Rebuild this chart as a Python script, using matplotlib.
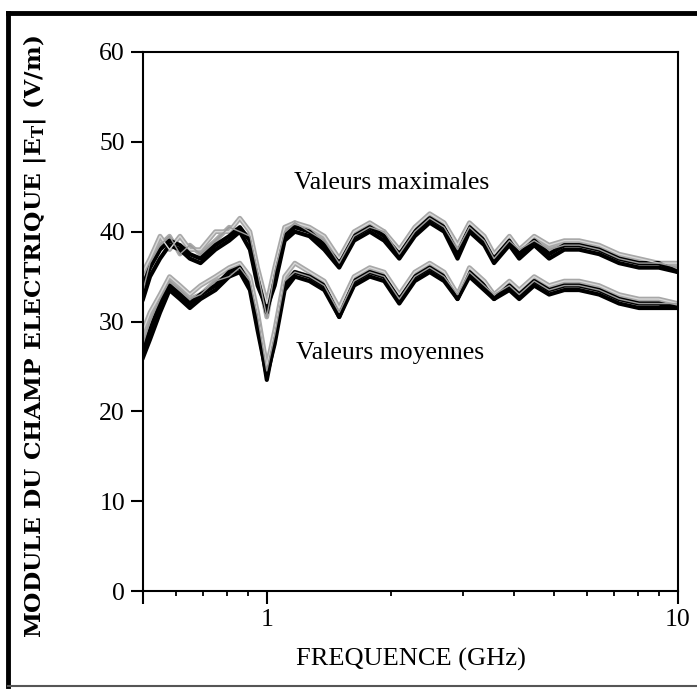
import matplotlib
matplotlib.use("Agg")
import matplotlib.pyplot as plt
from matplotlib.lines import Line2D

# ---------------- data ----------------
freq_ghz = [0.50, 0.52, 0.55, 0.58, 0.615, 0.65, 0.69, 0.75, 0.81, 0.86, 0.91, 0.95,
            1.0, 1.045, 1.105, 1.17, 1.27, 1.38, 1.50, 1.63, 1.78, 1.93, 2.10, 2.29,
            2.49, 2.70, 2.91, 3.11, 3.38, 3.57, 3.89, 4.11, 4.47, 4.86, 5.29, 5.75,
            6.43, 7.19, 8.04, 8.98, 10.0]

max_a = [34, 36, 38, 39, 38.5, 37.5, 37, 38.5, 39.5, 40.5, 39, 35,
         31, 35, 39.5, 40.5, 40, 38.5, 36.5, 39.5, 40.5, 39.5, 37.5, 40,
         41.5, 40.5, 37.5, 40.5, 39, 37, 39, 37.5, 39, 37.5, 38.5, 38.5,
         38, 37, 36.5, 36.5, 35.5]
max_b = [32.5, 35, 37, 38.5, 38, 37, 36.5, 38, 39, 40, 38, 34,
         31.5, 34, 39, 40, 39.5, 38, 36, 39, 40, 39, 37, 39.5,
         41, 40, 37, 40, 38.5, 36.5, 38.5, 37, 38.5, 37, 38, 38,
         37.5, 36.5, 36, 36, 35.5]
max_c = [35.5, 37, 39.5, 38, 39.5, 38, 38, 40, 40, 41.5, 40, 36,
         32, 36, 40.5, 41, 40.5, 39.5, 37, 40, 41, 40, 38, 40.5,
         42, 41, 38.5, 41, 39.5, 37.5, 39.5, 38, 39.5, 38.5, 39, 39,
         38.5, 37.5, 37, 36.5, 36.5]
max_d = [33.5, 36.5, 38.5, 39.5, 37.5, 38.5, 37.5, 39, 40.5, 40, 39.5, 35.5,
         30.5, 35.5, 40, 41, 40, 39, 36.5, 39.5, 40.5, 40, 37.5, 40,
         41.5, 40.5, 38, 40.5, 39, 37, 39, 38, 39, 38, 38.5, 38.5,
         38, 37, 36.5, 36.5, 36]

moy_a = [27, 29, 32, 34, 33, 32, 33, 34, 35.5, 36, 34, 30,
         23.5, 28, 34, 35.5, 35, 34, 30.5, 34.5, 35.5, 35, 32.5, 35,
         36, 35, 32.5, 35.5, 34, 32.5, 34, 33, 34.5, 33.5, 34, 34,
         33.5, 32.5, 32, 32, 31.5]
moy_b = [26, 28, 31, 33.5, 32.5, 31.5, 32.5, 33.5, 35, 35.5, 33.5, 29,
         24, 27.5, 33.5, 35, 34.5, 33.5, 30.5, 34, 35, 34.5, 32, 34.5,
         35.5, 34.5, 32.5, 35, 33.5, 32.5, 33.5, 32.5, 34, 33, 33.5, 33.5,
         33, 32, 31.5, 31.5, 31.5]
moy_c = [29, 31, 33, 35, 34, 33, 34, 35, 36, 36.5, 35, 31,
         25, 29, 35, 36.5, 35.5, 34.5, 31.5, 35, 36, 35.5, 33, 35.5,
         36.5, 35.5, 33, 36, 34.5, 33, 34.5, 33.5, 35, 34, 34.5, 34.5,
         34, 33, 32.5, 32.5, 32]
moy_d = [27.5, 30, 32.5, 34.5, 33.5, 32.5, 33, 34.5, 35, 36, 34.5, 30.5,
         24.5, 28.5, 34.5, 35.5, 35, 34, 31, 34.5, 35.5, 35, 32.5, 35,
         36, 35, 33, 35.5, 34, 33, 34, 33, 34.5, 33.5, 34, 34,
         33.5, 32.5, 32, 32, 32]

y_ticks = [0, 10, 20, 30, 40, 50, 60]
x_major = [0.5, 1, 10]
x_major_labels = ["", "1", "10"]

# ---------------- figure ----------------
plt.rcParams["mathtext.fontset"] = "dejavuserif"
W, H = 697, 694
fig = plt.figure(figsize=(W / 100, H / 100), dpi=100)
fig.patch.set_facecolor("white")

ax = fig.add_axes([143 / W, 1 - 591 / H, (678 - 143) / W, (591 - 52) / H])

for ys in (max_c, max_d, moy_c, moy_d):
    ax.plot(freq_ghz, ys, color="#a8a8a8", lw=3.4, solid_joinstyle="round")
for ys in (max_a, max_b, moy_a, moy_b):
    ax.plot(freq_ghz, ys, color="black", lw=3.0, solid_joinstyle="round")
for ys in (max_c, moy_c):
    ax.plot(freq_ghz, ys, color="#d8d8d8", lw=1.0)
for ys in (max_d, moy_d):
    ax.plot(freq_ghz, ys, color="#9a9a9a", lw=1.0)

ax.set_xscale("log")
ax.set_xlim(0.5, 10)
ax.set_ylim(0, 60)

ax.set_xticks(x_major)
ax.set_xticklabels(x_major_labels)
ax.set_xticks([0.6, 0.7, 0.8, 0.9, 2, 3, 4, 5, 6, 7, 8, 9], minor=True)
ax.xaxis.set_minor_formatter(matplotlib.ticker.NullFormatter())
ax.set_yticks(y_ticks)

serif = "Liberation Serif"
for lab in ax.get_xticklabels() + ax.get_yticklabels():
    lab.set_fontfamily(serif)
    lab.set_fontsize(18.5)
ax.tick_params(axis="both", which="major", direction="out", length=9, width=1.5, pad=4)
ax.tick_params(axis="x", which="minor", direction="out", length=3.5, width=1.3)
for sp in ax.spines.values():
    sp.set_linewidth(1.5)

ax.set_xlabel("FREQUENCE (GHz)", fontfamily=serif, fontsize=19, labelpad=12)

fig.text(35 / W, 1 - 337 / H, "MODULE DU CHAMP ELECTRIQUE |E$_\\mathbf{T}$| (V/m)",
         rotation=90, ha="center", va="center", fontfamily="DejaVu Serif",
         fontweight="bold", fontsize=16.8)

ax.text(294 / W, 1 - 183 / H, "Valeurs maximales", transform=fig.transFigure,
        fontfamily=serif, fontsize=18.5, ha="left", va="center")
ax.text(296 / W, 1 - 353 / H, "Valeurs moyennes", transform=fig.transFigure,
        fontfamily=serif, fontsize=18.5, ha="left", va="center")

# page frame
fig.add_artist(Line2D([8 / W, 8 / W], [1 - 13 / H, 1 - 686 / H], transform=fig.transFigure,
                      color="black", lw=3.5))
fig.add_artist(Line2D([8 / W, 1.0], [1 - 13 / H, 1 - 13 / H], transform=fig.transFigure,
                      color="black", lw=3.5))
fig.add_artist(Line2D([8 / W, 1.0], [1 - 686 / H, 1 - 686 / H], transform=fig.transFigure,
                      color="#555555", lw=1.5))

fig.savefig("out.png", dpi=100)
